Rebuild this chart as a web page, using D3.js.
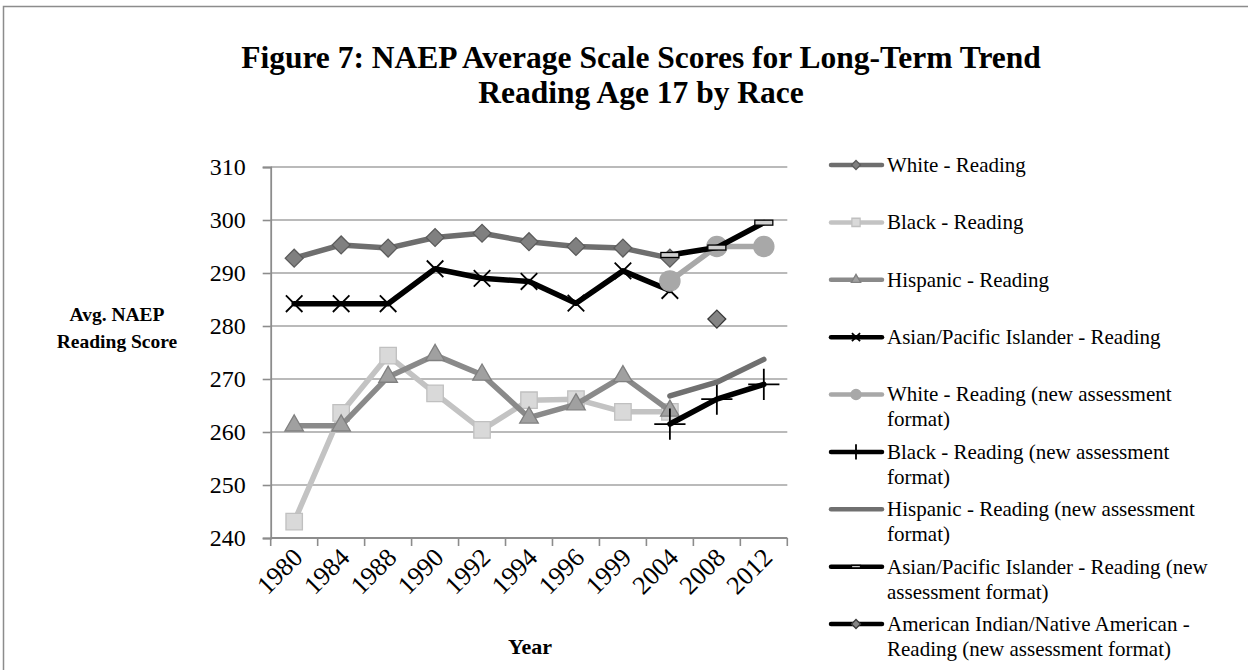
<!DOCTYPE html>
<html>
<head>
<meta charset="utf-8">
<script src="https://cdn.jsdelivr.net/npm/d3@7"></script>
<style>
  body { margin: 0; background: #fff; }
  text { font-family: "Liberation Serif", "Times New Roman", serif; fill: #000; }
</style>
</head>
<body>
<script>
var years = ["1980", "1984", "1988", "1990", "1992", "1994", "1996", "1999", "2004", "2008", "2012"];
var yTicks = [240, 250, 260, 270, 280, 290, 300, 310];

var whiteReading    = [292.8, 295.3, 294.7, 296.7, 297.5, 295.9, 295.0, 294.7, 292.8, null, null];
var blackReading    = [243.1, 263.6, 274.4, 267.3, 260.4, 266.0, 266.2, 263.8, 263.8, null, null];
var hispanicReading = [261.2, 261.2, 270.4, 274.5, 270.8, 262.7, 265.2, 270.5, 264.0, null, null];
var asianReading    = [284.2, 284.2, 284.2, 290.8, 289.0, 288.4, 284.3, 290.4, 286.7, null, null];
var whiteNew    = [null, null, null, null, null, null, null, null, 288.5, 295.0, 295.0];
var blackNew    = [null, null, null, null, null, null, null, null, 261.5, 266.2, 269.0];
var hispanicNew = [null, null, null, null, null, null, null, null, 266.8, 269.4, 273.7];
var asianNew    = [null, null, null, null, null, null, null, null, 293.4, 294.8, 299.5];
var aianNew     = [null, null, null, null, null, null, null, null, null, 281.3, null];

var seriesNames = [
  ["White - Reading"],
  ["Black - Reading"],
  ["Hispanic - Reading"],
  ["Asian/Pacific Islander - Reading"],
  ["White - Reading (new assessment", "format)"],
  ["Black - Reading (new assessment", "format)"],
  ["Hispanic - Reading (new assessment", "format)"],
  ["Asian/Pacific Islander - Reading (new", "assessment format)"],
  ["American Indian/Native American -", "Reading (new assessment format)"]
];

var width = 1248, height = 670;
var plot = { left: 270.7, right: 787.3, top: 167, bottom: 538 };

// styles per series (line colour, marker type, marker fill/stroke)
var styles = [
  { line: "#6e6e6e", marker: "diamond", fill: "#808080", stroke: "#5c5c5c" },
  { line: "#c3c3c3", marker: "square",  fill: "#d9d9d9", stroke: "#c0c0c0" },
  { line: "#8a8a8a", marker: "triangle", fill: "#a0a0a0", stroke: "#808080" },
  { line: "#000000", marker: "times",   fill: "none",    stroke: "#000" },
  { line: "#a8a8a8", marker: "circle",  fill: "#a8a8a8", stroke: "#a8a8a8" },
  { line: "#000000", marker: "plus",    fill: "none",    stroke: "#000" },
  { line: "#707070", marker: "none",    fill: "none",    stroke: "none" },
  { line: "#000000", marker: "dash",    fill: "#d0d0d0", stroke: "#000" },
  { line: "#000000", marker: "diamond", fill: "#858585", stroke: "#3a3a3a" }
];
var seriesValues = [whiteReading, blackReading, hispanicReading, asianReading,
  whiteNew, blackNew, hispanicNew, asianNew, aianNew];

var svg = d3.select("body").append("svg")
  .attr("width", width)
  .attr("height", height);

// outer frame
svg.append("rect")
  .attr("x", 3.5).attr("y", 6.5)
  .attr("width", 1300).attr("height", 700)
  .style("fill", "none")
  .style("stroke", "#8c8c8c")
  .style("stroke-width", 1.5);

// title
var title = svg.append("text")
  .attr("text-anchor", "middle")
  .style("font-size", "31.5px")
  .style("font-weight", "bold");
title.append("tspan").attr("x", 641).attr("y", 68).text("Figure 7: NAEP Average Scale Scores for Long-Term Trend");
title.append("tspan").attr("x", 641).attr("y", 103).text("Reading Age 17 by Race");

var x = d3.scaleBand()
  .domain(years)
  .range([plot.left, plot.right])
  .paddingInner(0).paddingOuter(0);

var y = d3.scaleLinear()
  .domain([240, 310])
  .range([plot.bottom, plot.top]);

function cx(i) { return x(years[i]) + x.bandwidth() / 2; }

// gridlines
svg.append("g")
  .selectAll("line")
  .data(yTicks.filter(function(d) { return d > 240; }))
  .enter().append("line")
  .attr("x1", plot.left).attr("x2", plot.right)
  .attr("y1", function(d) { return y(d); })
  .attr("y2", function(d) { return y(d); })
  .style("stroke", "#a3a3a3")
  .style("stroke-width", 1.6);

// y axis
var yAxis = svg.append("g")
  .attr("transform", "translate(" + plot.left + ",0)")
  .call(d3.axisLeft(y).tickValues(yTicks).tickSize(8).tickPadding(17).tickFormat(d3.format("d")));
yAxis.select(".domain").style("stroke", "#8c8c8c").style("stroke-width", 1.8);
yAxis.selectAll(".tick line").style("stroke", "#8c8c8c").style("stroke-width", 1.6);
yAxis.selectAll(".tick text")
  .style("font-family", "'Liberation Serif', 'Times New Roman', serif")
  .style("font-size", "24px");

// x axis: baseline, ticks between categories, rotated labels
var xAxis = svg.append("g");
xAxis.append("line")
  .attr("x1", plot.left).attr("x2", plot.right)
  .attr("y1", y(240)).attr("y2", y(240))
  .style("stroke", "#8c8c8c").style("stroke-width", 1.8);
xAxis.selectAll(".xtick")
  .data(years.concat(["end"]))
  .enter().append("line")
  .attr("class", "xtick")
  .attr("x1", function(d) { return d === "end" ? x.range()[1] : x(d); })
  .attr("x2", function(d) { return d === "end" ? x.range()[1] : x(d); })
  .attr("y1", y(240)).attr("y2", y(240) + 8)
  .style("stroke", "#8c8c8c").style("stroke-width", 1.6);
xAxis.selectAll(".xlabel")
  .data(years)
  .enter().append("text")
  .attr("class", "xlabel")
  .attr("text-anchor", "end")
  .attr("transform", function(d) { return "translate(" + (x(d) + x.bandwidth() / 2 + 10) + "," + (y(240) + 21) + ") rotate(-45)"; })
  .style("font-size", "26px")
  .text(function(d) { return d; });

// axis titles
var yTitle = svg.append("text")
  .attr("text-anchor", "middle")
  .style("font-size", "19.5px")
  .style("font-weight", "bold");
yTitle.append("tspan").attr("x", 117).attr("y", 321).text("Avg. NAEP");
yTitle.append("tspan").attr("x", 117).attr("y", 348).text("Reading Score");

svg.append("text")
  .attr("x", 530).attr("y", 654)
  .attr("text-anchor", "middle")
  .style("font-size", "22px")
  .style("font-weight", "bold")
  .text("Year");

// marker drawing
function drawMarker(g, type, st, scale) {
  var m;
  if (type === "diamond") {
    m = g.append("path").attr("d", d3.symbol(d3.symbolSquare, 160 * scale * scale)())
      .attr("transform", "rotate(45)");
  } else if (type === "square") {
    m = g.append("path").attr("d", d3.symbol(d3.symbolSquare, 270 * scale * scale)());
  } else if (type === "triangle") {
    m = g.append("path").attr("d", d3.symbol(d3.symbolTriangle, 150 * scale * scale)());
  } else if (type === "circle") {
    m = g.append("path").attr("d", d3.symbol(d3.symbolCircle, 320 * scale * scale)());
  } else if (type === "times") {
    m = g.append("path").attr("d", d3.symbol(d3.symbolTimes, 180 * scale * scale)());
  } else if (type === "plus") {
    m = g.append("path").attr("d", d3.symbol(d3.symbolPlus, 320 * scale * scale)());
  } else if (type === "dash") {
    m = g.append("rect")
      .attr("x", -9 * scale).attr("y", -2.5 * scale)
      .attr("width", 18 * scale).attr("height", 5 * scale);
  } else {
    return;
  }
  m.style("fill", st.fill)
    .style("stroke", st.stroke)
    .style("stroke-width", type === "times" || type === "plus" ? 1.8 : 1.3);
}

var line = d3.line()
  .defined(function(d) { return d.v != null; })
  .x(function(d) { return cx(d.i); })
  .y(function(d) { return y(d.v); });

seriesValues.forEach(function(vals, s) {
  var pts = vals.map(function(v, i) { return { i: i, v: v }; });
  var g = svg.append("g").attr("class", "series");
  g.append("path")
    .datum(pts)
    .attr("d", line)
    .style("fill", "none")
    .style("stroke", styles[s].line)
    .style("stroke-width", 5.5)
    .style("stroke-linejoin", "round")
    .style("stroke-linecap", "round");
  pts.filter(function(d) { return d.v != null; }).forEach(function(d) {
    var mg = g.append("g").attr("transform", "translate(" + cx(d.i) + "," + y(d.v) + ")");
    drawMarker(mg, styles[s].marker, styles[s], 1);
  });
});

// legend
var legendY = d3.scaleLinear().domain([0, 8]).range([165, 624]);
var legend = svg.append("g").attr("class", "legend");
seriesNames.forEach(function(lines, s) {
  var ly = legendY(s);
  var item = legend.append("g").attr("transform", "translate(0," + ly + ")");
  item.append("line")
    .attr("x1", 831).attr("x2", 882).attr("y1", 0).attr("y2", 0)
    .style("stroke", styles[s].line)
    .style("stroke-width", 4.5)
    .style("stroke-linecap", "round");
  var mg = item.append("g").attr("transform", "translate(856,0)");
  drawMarker(mg, styles[s].marker, styles[s], 0.5);
  var t = item.append("text")
    .style("font-size", "21px");
  lines.forEach(function(l, k) {
    t.append("tspan")
      .attr("x", 887)
      .attr("y", k * 25)
      .attr("dy", "0.33em")
      .text(l);
  });
});
</script>
</body>
</html>
